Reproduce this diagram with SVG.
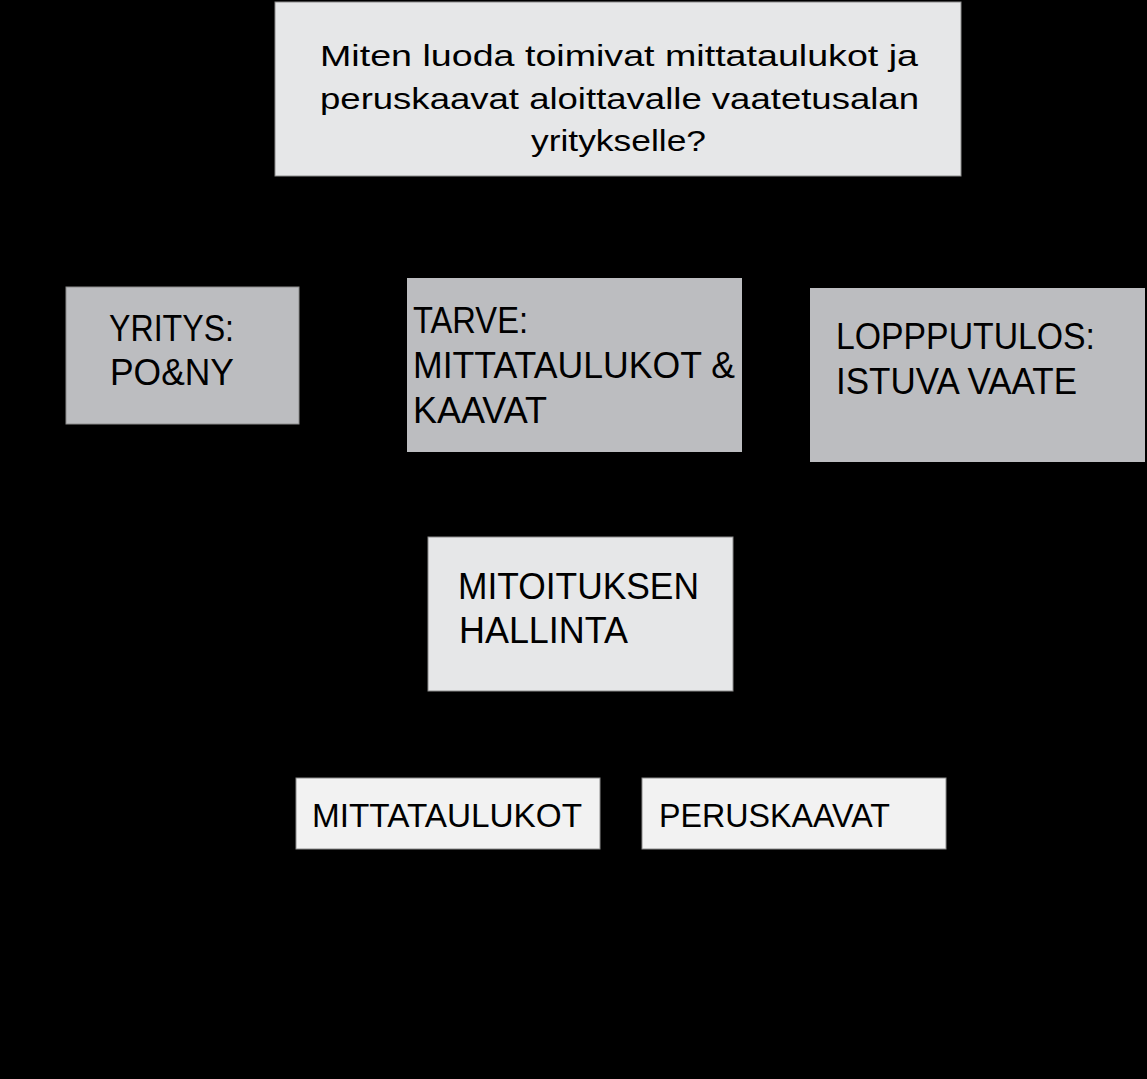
<svg xmlns="http://www.w3.org/2000/svg" width="1147" height="1079" viewBox="0 0 1147 1079">
  <style>
    .box { stroke: #8c8c8c; stroke-width: 1; }
    .light { fill: #e6e7e8; }
    .mid { fill: #bcbdc0; }
    .pale { fill: #f2f2f2; }
    .t { font-family: "Liberation Sans", Arial, sans-serif; fill: #000000; }
    .q { font-size: 29px; }
    .lab { font-size: 36px; }
    .small { font-size: 34px; }
    .conn { stroke: #000000; stroke-width: 2; fill: none; }
  </style>
  <defs>
    <marker id="arrow" markerWidth="8" markerHeight="8" refX="7" refY="4" orient="auto">
      <path d="M0,0 L8,4 L0,8 z" fill="#000000"/>
    </marker>
  </defs>
  <rect x="0" y="0" width="1147" height="1079" fill="#000000"/>

  <g id="connectors">
    <line class="conn" x1="576" y1="177" x2="576" y2="277" marker-end="url(#arrow)"/>
    <line class="conn" x1="407" y1="355" x2="300" y2="355" marker-end="url(#arrow)"/>
    <line class="conn" x1="742" y1="355" x2="809" y2="355" marker-end="url(#arrow)"/>
    <line class="conn" x1="576" y1="452" x2="576" y2="536" marker-end="url(#arrow)"/>
    <line class="conn" x1="516" y1="692" x2="516" y2="777" marker-end="url(#arrow)"/>
    <line class="conn" x1="683" y1="692" x2="683" y2="777" marker-end="url(#arrow)"/>
  </g>

  <g id="node-question">
    <rect class="box light" x="275" y="2" width="686" height="174"/>
    <text class="t q" x="320" y="66" textLength="598" lengthAdjust="spacingAndGlyphs">Miten luoda toimivat mittataulukot ja</text>
    <text class="t q" x="320" y="109" textLength="599" lengthAdjust="spacingAndGlyphs">peruskaavat aloittavalle vaatetusalan</text>
    <text class="t q" x="531" y="151" textLength="175" lengthAdjust="spacingAndGlyphs">yritykselle?</text>
  </g>

  <g id="node-yritys">
    <rect class="box mid" x="66" y="287" width="233" height="137"/>
    <text class="t lab" x="109" y="341" textLength="125" lengthAdjust="spacingAndGlyphs">YRITYS:</text>
    <text class="t lab" x="110" y="385" textLength="124" lengthAdjust="spacingAndGlyphs">PO&amp;NY</text>
  </g>

  <g id="node-tarve">
    <rect class="mid" x="407" y="278" width="335" height="174"/>
    <text class="t lab" x="413" y="333" textLength="115" lengthAdjust="spacingAndGlyphs">TARVE:</text>
    <text class="t lab" x="413" y="378" textLength="322" lengthAdjust="spacingAndGlyphs">MITTATAULUKOT &amp;</text>
    <text class="t lab" x="413" y="423" textLength="134" lengthAdjust="spacingAndGlyphs">KAAVAT</text>
  </g>

  <g id="node-lopputulos">
    <rect class="mid" x="810" y="288" width="335" height="174"/>
    <text class="t lab" x="836" y="349" textLength="259" lengthAdjust="spacingAndGlyphs">LOPPPUTULOS:</text>
    <text class="t lab" x="836" y="394" textLength="241" lengthAdjust="spacingAndGlyphs">ISTUVA VAATE</text>
  </g>

  <g id="node-mitoitus">
    <rect class="box light" x="428" y="537" width="305" height="154"/>
    <text class="t lab" x="458" y="599" textLength="241" lengthAdjust="spacingAndGlyphs">MITOITUKSEN</text>
    <text class="t lab" x="459" y="643" textLength="169" lengthAdjust="spacingAndGlyphs">HALLINTA</text>
  </g>

  <g id="node-mittataulukot">
    <rect class="box pale" x="296" y="778" width="304" height="71"/>
    <text class="t small" x="312" y="827" textLength="270" lengthAdjust="spacingAndGlyphs">MITTATAULUKOT</text>
  </g>

  <g id="node-peruskaavat">
    <rect class="box pale" x="642" y="778" width="304" height="71"/>
    <text class="t small" x="659" y="827" textLength="231" lengthAdjust="spacingAndGlyphs">PERUSKAAVAT</text>
  </g>
</svg>
